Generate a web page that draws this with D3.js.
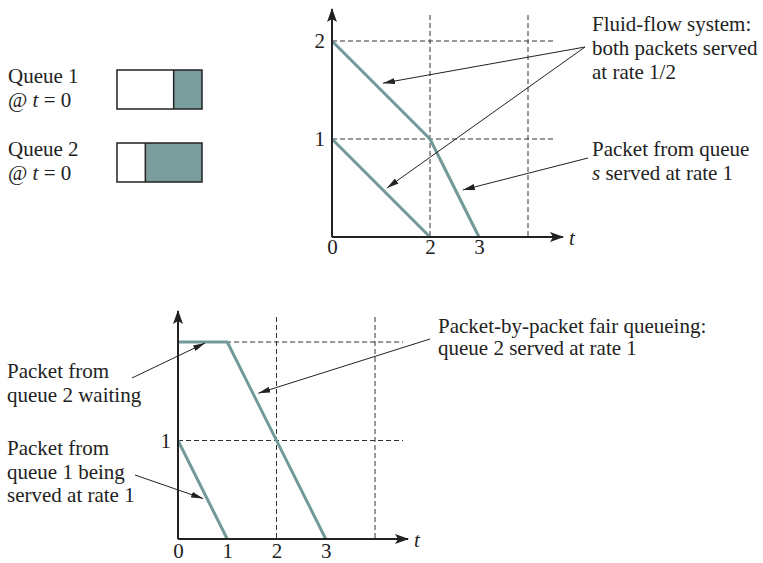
<!DOCTYPE html>
<html>
<head>
<meta charset="utf-8">
<script src="https://cdn.jsdelivr.net/npm/d3@7"></script>
<style>
  body { margin: 0; background: #fff; }
  svg text { font-family: "Liberation Serif", "Times New Roman", Times, serif; font-size: 21px; fill: #222; }
</style>
</head>
<body>
<svg width="763" height="563"></svg>
<script>
// ---- data ----
// packet sizes left in each queue at t = 0
const queueNames = ['Queue 1', 'Queue 2']
const queueSizes = [1, 2]
const queueCapacity = 3

// fluid-flow system (top): remaining work vs time
const fluidQueue2 = [[0, 2], [2, 1], [3, 0]]
const fluidQueue1 = [[0, 1], [2, 0]]
const topXTicks = [0, 2, 3]
const topYTicks = [1, 2]
const topGridX = [2, 4]
const topGridY = [1, 2]

// packet-by-packet fair queueing (bottom)
const pfqQueue2 = [[0, 2], [1, 2], [3, 0]]
const pfqQueue1 = [[0, 1], [1, 0]]
const bottomXTicks = [0, 1, 2, 3]
const bottomYTicks = [1]
const bottomGridX = [2, 4]
const bottomGridY = [1, 2]

const teal = '#719999'
const fillTeal = '#7a9c9c'
const ink = '#222'

const svg = d3.select('svg')

// arrow heads
const defs = svg.append('defs')
defs.append('marker')
    .attr('id', 'axisHead')
    .attr('viewBox', '0 0 14 10')
    .attr('refX', 13).attr('refY', 5)
    .attr('markerWidth', 14).attr('markerHeight', 10)
    .attr('markerUnits', 'userSpaceOnUse')
    .attr('orient', 'auto')
  .append('path')
    .attr('d', 'M0,0 L14,5 L0,10 L3,5 Z')
    .attr('fill', ink)
defs.append('marker')
    .attr('id', 'noteHead')
    .attr('viewBox', '0 0 12 6')
    .attr('refX', 12).attr('refY', 3)
    .attr('markerWidth', 12).attr('markerHeight', 6)
    .attr('markerUnits', 'userSpaceOnUse')
    .attr('orient', 'auto')
  .append('path')
    .attr('d', 'M0,0 L12,3 L0,6 Z')
    .attr('fill', ink)

// ---- queue boxes ----
const boxW = 85, boxH = 39, boxX = 117
const boxScale = d3.scaleLinear().domain([0, queueCapacity]).range([0, boxW])
const boxTops = [70, 143]

queueNames.forEach((name, i) => {
    const g = svg.append('g')
    g.append('text').attr('x', 8).attr('y', boxTops[i] + 13).text(name)
    const t2 = g.append('text').attr('x', 8).attr('y', boxTops[i] + 37)
    t2.append('tspan').text('@ ')
    t2.append('tspan').attr('font-style', 'italic').text('t')
    t2.append('tspan').text(' = 0')

    const filled = boxScale(queueSizes[i])
    g.append('rect')
        .attr('x', boxX + boxW - filled)
        .attr('y', boxTops[i])
        .attr('width', filled)
        .attr('height', boxH)
        .attr('fill', fillTeal)
    g.append('line')
        .attr('x1', boxX + boxW - filled).attr('x2', boxX + boxW - filled)
        .attr('y1', boxTops[i]).attr('y2', boxTops[i] + boxH)
        .attr('stroke', ink).attr('stroke-width', 1.5)
    g.append('rect')
        .attr('x', boxX).attr('y', boxTops[i])
        .attr('width', boxW).attr('height', boxH)
        .attr('fill', 'none').attr('stroke', ink).attr('stroke-width', 1.5)
})

// ---- one panel: axes, grid, lines ----
const drawPanel = opts => {
    const {x, y, xTicks, yTicks, gridX, gridY, series, frame} = opts
    const g = svg.append('g')

    // dashed grid
    g.selectAll('.gx').data(gridX).enter().append('line')
        .attr('x1', d => x(d)).attr('x2', d => x(d))
        .attr('y1', frame.gridTop).attr('y2', y(0))
        .attr('stroke', '#333').attr('stroke-width', 1)
        .attr('stroke-dasharray', '5,3')
    g.selectAll('.gy').data(gridY).enter().append('line')
        .attr('x1', x(0)).attr('x2', frame.gridRight)
        .attr('y1', d => y(d)).attr('y2', d => y(d))
        .attr('stroke', '#333').attr('stroke-width', 1)
        .attr('stroke-dasharray', '5,3')

    // series
    const line = d3.line().x(d => x(d[0])).y(d => y(d[1]))
    g.selectAll('.series').data(series).enter().append('path')
        .attr('d', line)
        .attr('fill', 'none')
        .attr('stroke', teal)
        .attr('stroke-width', 3)
        .attr('stroke-linejoin', 'round')

    // axis lines with arrows
    g.append('line')
        .attr('x1', x(0)).attr('x2', frame.axisRight)
        .attr('y1', y(0)).attr('y2', y(0))
        .attr('stroke', ink).attr('stroke-width', 2)
        .attr('marker-end', 'url(#axisHead)')
    g.append('line')
        .attr('x1', x(0)).attr('x2', x(0))
        .attr('y1', y(0)).attr('y2', frame.axisTop)
        .attr('stroke', ink).attr('stroke-width', 2)
        .attr('marker-end', 'url(#axisHead)')

    const xAxisG = g.append('g')
        .attr('transform', `translate(0,${y(0)})`)
        .call(d3.axisBottom(x).tickValues(xTicks).tickFormat(d3.format('d'))
            .tickSize(0).tickPadding(frame.xPad))
    xAxisG.select('.domain').remove()

    const yAxisG = g.append('g')
        .attr('transform', `translate(${x(0)},0)`)
        .call(d3.axisLeft(y).tickValues(yTicks).tickFormat(d3.format('d'))
            .tickSize(0).tickPadding(7))
    yAxisG.select('.domain').remove()

    g.append('text')
        .attr('x', frame.axisRight + 6).attr('y', y(0) + 8)
        .attr('font-style', 'italic')
        .text('t')
    return g
}

const note = (lines, tx, ty, lh) => {
    const t = svg.append('text').attr('x', tx).attr('y', ty)
    lines.forEach((l, i) => {
        const ts = t.append('tspan').attr('x', tx).attr('y', ty + i * lh)
        l.forEach(part => {
            ts.append('tspan')
                .attr('font-style', part.it ? 'italic' : null)
                .text(part.s)
        })
    })
}
const arrow = (x1, y1, x2, y2) => {
    svg.append('line')
        .attr('x1', x1).attr('y1', y1).attr('x2', x2).attr('y2', y2)
        .attr('stroke', ink).attr('stroke-width', 1)
        .attr('marker-end', 'url(#noteHead)')
}

// ---- top panel: fluid-flow ----
const xTop = d3.scaleLinear().domain([0, 4]).range([332, 528])
const yTop = d3.scaleLinear().domain([0, 2]).range([237, 41])
drawPanel({
    x: xTop, y: yTop,
    xTicks: topXTicks, yTicks: topYTicks,
    gridX: topGridX, gridY: topGridY,
    series: [fluidQueue2, fluidQueue1],
    frame: {gridTop: 15, gridRight: 556, axisRight: 563, axisTop: 9, xPad: 2}
})

note([[{s: 'Fluid-flow system:'}], [{s: 'both packets served'}], [{s: 'at rate 1/2'}]], 592, 31, 24)
note([[{s: 'Packet from queue'}], [{s: 's', it: true}, {s: ' served at rate 1'}]], 592, 156, 24)
arrow(585, 47, xTop(1.04), yTop(1.57))
arrow(585, 47, xTop(1.12), yTop(0.5))
arrow(588, 158, xTop(2.67), yTop(0.48))

// ---- bottom panel: packet-by-packet fair queueing ----
const xBot = d3.scaleLinear().domain([0, 4]).range([178, 375])
const yBot = d3.scaleLinear().domain([0, 2]).range([539, 342])
drawPanel({
    x: xBot, y: yBot,
    xTicks: bottomXTicks, yTicks: bottomYTicks,
    gridX: bottomGridX, gridY: bottomGridY,
    series: [pfqQueue2, pfqQueue1],
    frame: {gridTop: 317, gridRight: 403, axisRight: 408, axisTop: 311, xPad: 4}
})

note([[{s: 'Packet-by-packet fair queueing:'}], [{s: 'queue 2 served at rate 1'}]], 438, 333, 22)
note([[{s: 'Packet from'}], [{s: 'queue 2 waiting'}]], 7, 378, 24)
note([[{s: 'Packet from'}], [{s: 'queue 1 being'}], [{s: 'served at rate 1'}]], 7, 455, 23.5)
arrow(430, 339, xBot(1.63), yBot(1.48))
arrow(132, 378, xBot(0.55), yBot(1.99))
arrow(135, 475, xBot(0.51), yBot(0.41))
</script>
</body>
</html>
